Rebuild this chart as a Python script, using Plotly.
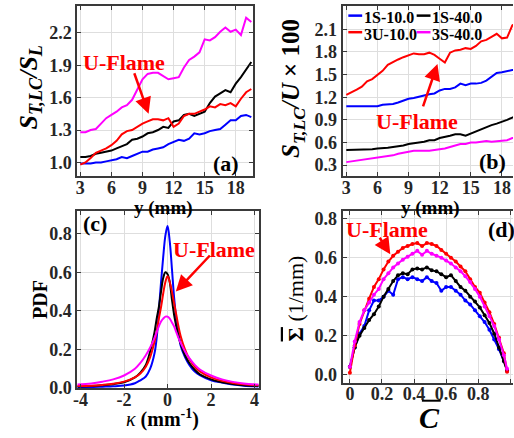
import plotly.graph_objects as go

W, H = 514, 438

# ---------------- data ----------------
y_mm = [3.0, 3.5, 4.0, 4.5, 5.0, 5.5, 6.0, 6.5, 7.0, 7.5, 8.0, 8.5, 9.0, 9.5, 10.0, 10.5, 11.0,
        11.5, 12.0, 12.5, 13.0, 13.5, 14.0, 14.5, 15.0, 15.5, 16.0, 16.5, 17.0, 17.5, 18.0, 18.5, 19.0, 19.5]

# panel (a): S_T,LC / S_L
a_blue = [0.99, 0.99, 0.99, 1.00, 1.00, 1.01, 1.02, 1.03, 1.05, 1.04, 1.06, 1.08, 1.10, 1.10, 1.12, 1.13, 1.14,
          1.17, 1.19, 1.21, 1.20, 1.22, 1.27, 1.26, 1.27, 1.29, 1.30, 1.31, 1.35, 1.39, 1.39, 1.43, 1.44, 1.42]
a_black = [1.05, 1.05, 1.06, 1.08, 1.09, 1.10, 1.11, 1.13, 1.15, 1.17, 1.21, 1.22, 1.24, 1.27, 1.28, 1.30, 1.33,
           1.32, 1.38, 1.39, 1.44, 1.45, 1.43, 1.45, 1.47, 1.55, 1.61, 1.64, 1.67, 1.65, 1.73, 1.79, 1.86, 1.93]
a_red = [0.98, 1.00, 1.04, 1.09, 1.11, 1.13, 1.16, 1.20, 1.26, 1.29, 1.30, 1.33, 1.36, 1.38, 1.40, 1.40, 1.39,
         1.41, 1.33, 1.36, 1.43, 1.45, 1.45, 1.47, 1.49, 1.52, 1.51, 1.54, 1.53, 1.55, 1.52, 1.59, 1.65, 1.68]
a_mag = [1.28, 1.28, 1.30, 1.31, 1.36, 1.41, 1.44, 1.47, 1.51, 1.53, 1.58, 1.67, 1.77, 1.82, 1.83, 1.83, 1.80,
         1.77, 1.78, 1.79, 1.88, 1.95, 1.98, 2.02, 2.14, 2.13, 2.16, 2.21, 2.25, 2.21, 2.23, 2.18, 2.34, 2.30]

# panel (b): S_T,LC / U x 100
b_blue = [1.08, 1.08, 1.08, 1.08, 1.08, 1.08, 1.08, 1.10, 1.11, 1.11, 1.13, 1.16, 1.18, 1.19, 1.21, 1.23, 1.24,
          1.25, 1.29, 1.31, 1.31, 1.33, 1.38, 1.36, 1.38, 1.38, 1.39, 1.42, 1.47, 1.52, 1.53, 1.55, 1.56, 1.56]
b_black = [0.50, 0.50, 0.50, 0.50, 0.51, 0.51, 0.52, 0.52, 0.53, 0.54, 0.55, 0.56, 0.58, 0.59, 0.60, 0.61, 0.63,
           0.63, 0.66, 0.67, 0.69, 0.71, 0.71, 0.69, 0.72, 0.75, 0.78, 0.80, 0.83, 0.85, 0.87, 0.90, 0.93, 0.95]
b_red = [1.23, 1.26, 1.30, 1.34, 1.41, 1.44, 1.50, 1.55, 1.63, 1.67, 1.70, 1.73, 1.75, 1.78, 1.77, 1.77, 1.79,
         1.76, 1.71, 1.66, 1.79, 1.82, 1.83, 1.85, 1.84, 1.88, 1.94, 1.96, 2.00, 2.04, 1.98, 1.99, 2.15, 2.20]
b_mag = [0.34, 0.35, 0.36, 0.37, 0.38, 0.39, 0.40, 0.41, 0.42, 0.43, 0.45, 0.46, 0.47, 0.49, 0.49, 0.49, 0.49,
         0.50, 0.51, 0.52, 0.54, 0.56, 0.58, 0.58, 0.60, 0.60, 0.61, 0.62, 0.61, 0.62, 0.62, 0.63, 0.66, 0.66]

# panel (c): PDF of curvature
kappa = [-4.15, -3.5, -3.0, -2.5, -2.0, -1.5, -1.25, -1.0, -0.8, -0.6, -0.5, -0.4, -0.3, -0.2, -0.1, 0.0,
         0.1, 0.2, 0.3, 0.4, 0.5, 0.6, 0.8, 1.0, 1.25, 1.5, 2.0, 2.5, 3.0, 3.5, 4.2]
c_blue = [0.004, 0.005, 0.007, 0.009, 0.013, 0.025, 0.040, 0.060, 0.10, 0.18, 0.26, 0.40, 0.55, 0.68, 0.79, 0.84,
          0.76, 0.62, 0.47, 0.36, 0.29, 0.22, 0.16, 0.12, 0.085, 0.065, 0.040, 0.028, 0.018, 0.012, 0.008]
c_black = [0.008, 0.010, 0.014, 0.020, 0.030, 0.055, 0.080, 0.12, 0.19, 0.29, 0.36, 0.42, 0.50, 0.57, 0.60, 0.59,
           0.55, 0.46, 0.38, 0.32, 0.27, 0.23, 0.17, 0.13, 0.095, 0.070, 0.045, 0.030, 0.021, 0.015, 0.011]
c_red = [0.010, 0.012, 0.016, 0.022, 0.033, 0.055, 0.075, 0.11, 0.16, 0.24, 0.29, 0.36, 0.42, 0.49, 0.55, 0.58,
         0.55, 0.50, 0.44, 0.38, 0.32, 0.27, 0.20, 0.15, 0.11, 0.085, 0.055, 0.037, 0.026, 0.019, 0.014]
c_mag = [0.018, 0.024, 0.033, 0.045, 0.065, 0.10, 0.13, 0.17, 0.21, 0.26, 0.29, 0.32, 0.345, 0.36, 0.37, 0.37,
         0.36, 0.34, 0.32, 0.29, 0.26, 0.235, 0.19, 0.155, 0.12, 0.095, 0.065, 0.045, 0.032, 0.024, 0.018]

# panel (d): surface density vs progress variable
c_bar = [0.0, 0.03, 0.06, 0.09, 0.12, 0.15, 0.18, 0.21, 0.24, 0.27, 0.30, 0.33, 0.36, 0.39, 0.42, 0.45, 0.48,
         0.51, 0.54, 0.57, 0.60, 0.63, 0.66, 0.69, 0.72, 0.75, 0.78, 0.81, 0.84, 0.87, 0.90, 0.93, 0.96, 0.98]
d_blue = [0.04, 0.14, 0.21, 0.25, 0.33, 0.38, 0.38, 0.40, 0.43, 0.41, 0.49, 0.50, 0.49, 0.50, 0.49, 0.48, 0.50,
          0.48, 0.47, 0.43, 0.45, 0.45, 0.43, 0.41, 0.38, 0.36, 0.33, 0.30, 0.27, 0.23, 0.18, 0.13, 0.07, 0.02]
d_black = [0.04, 0.14, 0.20, 0.24, 0.28, 0.31, 0.35, 0.40, 0.44, 0.48, 0.51, 0.52, 0.515, 0.54, 0.545, 0.54, 0.55,
           0.535, 0.53, 0.515, 0.50, 0.51, 0.48, 0.45, 0.43, 0.40, 0.375, 0.345, 0.305, 0.265, 0.21, 0.14, 0.07, 0.02]
d_red = [0.01, 0.15, 0.26, 0.33, 0.39, 0.45, 0.49, 0.54, 0.58, 0.61, 0.63, 0.65, 0.66, 0.67, 0.675, 0.66, 0.675,
         0.67, 0.66, 0.64, 0.62, 0.60, 0.58, 0.555, 0.53, 0.49, 0.45, 0.42, 0.37, 0.32, 0.26, 0.19, 0.11, 0.015]
d_mag = [0.04, 0.17, 0.27, 0.33, 0.37, 0.41, 0.44, 0.49, 0.52, 0.55, 0.57, 0.59, 0.605, 0.62, 0.635, 0.615, 0.635,
         0.62, 0.61, 0.60, 0.585, 0.57, 0.55, 0.53, 0.505, 0.475, 0.44, 0.40, 0.35, 0.30, 0.25, 0.18, 0.10, 0.03]

series_names = ["1S-10.0", "1S-40.0", "3U-10.0", "3S-40.0"]
series_colors = ["#0000ff", "#000000", "#ff0000", "#ff00ff"]

# ---------------- helpers ----------------
def fx(p):
    return p / W

def fy(p):
    return 1 - p / H

SERIF = "Liberation Serif"
FRAME = "#3a3a3a"
GRID = "#dedede"

def axis_style(dom, rng, tickvals, ticktext, anchor, mirror=True, standoff=0):
    return dict(domain=dom, range=rng, tickvals=tickvals, ticktext=ticktext, anchor=anchor,
                showline=True, linecolor=FRAME, linewidth=2, mirror="ticks" if mirror else False,
                ticks="inside", ticklen=4, tickwidth=1, tickcolor=FRAME,
                showgrid=True, gridcolor=GRID, gridwidth=1, zeroline=False,
                ticklabelstandoff=standoff,
                tickfont=dict(family=SERIF, size=18, color="#262626", weight="bold"))

fig = go.Figure()

groups = [
    ("x", "y", y_mm, [a_blue, a_black, a_red, a_mag], "lines", "linear"),
    ("x2", "y2", y_mm, [b_blue, b_black, b_red, b_mag], "lines", "linear"),
    ("x3", "y3", kappa, [c_blue, c_black, c_red, c_mag], "lines", "spline"),
    ("x4", "y4", c_bar, [d_blue, d_black, d_red, d_mag], "lines+markers", "linear"),
]
for xa, ya, xs, ylist, mode, shape in groups:
    for name, col, ys in zip(series_names, series_colors, ylist):
        fig.add_trace(go.Scatter(x=xs, y=ys, xaxis=xa, yaxis=ya, mode=mode, name=name,
                                 line=dict(color=col, width=2, shape=shape),
                                 marker=dict(size=4, color=col), showlegend=False))

ya_ticks = [1.0, 1.3, 1.6, 1.9, 2.2]
yb_ticks = [0.3, 0.6, 0.9, 1.2, 1.5, 1.8, 2.1]
xab_ticks = [3, 6, 9, 12, 15, 18]
xc_ticks = [-4, -2, 0, 2, 4]
ycd_ticks = [0.0, 0.2, 0.4, 0.6, 0.8]
xd_ticks = [0, 0.2, 0.4, 0.6, 0.8, 1]

top_dom = [fy(180), fy(5)]
XS = -6
fig.update_layout(
    width=W, height=H, margin=dict(l=0, r=0, t=0, b=0),
    paper_bgcolor="white", plot_bgcolor="white", showlegend=False,
    xaxis=axis_style([fx(74), fx(251)], [2.71, 19.62], xab_ticks, [str(v) for v in xab_ticks], "y", standoff=XS),
    yaxis=axis_style(top_dom, [0.87, 2.45], ya_ticks, [f"{v:.1f}" for v in ya_ticks], "x"),
    xaxis2=axis_style([fx(342), 1.0], [2.65, 19.07], xab_ticks, [str(v) for v in xab_ticks], "y2", standoff=XS),
    yaxis2=axis_style(top_dom, [0.15, 2.41], yb_ticks, [f"{v:.1f}" for v in yb_ticks], "x2", mirror=False),
    xaxis3=axis_style([fx(74), fx(257)], [-4.15, 4.18], xc_ticks, [str(v) for v in xc_ticks], "y3", standoff=XS),
    yaxis3=axis_style([fy(397), fy(215)], [0.0, 0.92], ycd_ticks, [f"{v:.1f}" for v in ycd_ticks], "x3"),
    xaxis4=axis_style([fx(342), 1.0], [-0.045, 1.017], xd_ticks, ["0", "0.2", "0.4", "0.6", "0.8", "1"], "y4", standoff=XS),
    yaxis4=axis_style([fy(391.7), fy(215)], [-0.042, 0.8415], ycd_ticks, [f"{v:.1f}" for v in ycd_ticks], "x4", mirror=False),
)

ann = []

def text(px, py, s, size=18, color="black", angle=0, xanchor="center"):
    ann.append(dict(x=fx(px), y=fy(py), xref="paper", yref="paper", text=s, showarrow=False,
                    textangle=angle, xanchor=xanchor, yanchor="middle",
                    font=dict(family=SERIF, size=size, color=color)))

def arrow(xa, ya, tail, tip):
    ann.append(dict(x=tip[0], y=tip[1], ax=tail[0], ay=tail[1], xref=xa, yref=ya, axref=xa, ayref=ya,
                    text="", showarrow=True, arrowhead=2, arrowsize=1.3, arrowwidth=2.5,
                    arrowcolor="#ff0000", standoff=0, startstandoff=0))

# axis titles
text(26, 88, "<b><i>S</i><sub><i>T,LC</i></sub><i>/S</i><sub><i>L</i></sub></b>", size=26, angle=-90)
text(292, 90, "<b><i>S</i><sub><i>T,LC</i></sub><i>/U</i> × 100</b>", size=25, angle=-90)
text(37, 306, "<b>PDF</b>", size=20, angle=-90)
text(294, 305, "<b><span style='text-decoration:overline'>Σ</span></b> (1/mm)", size=22, angle=-90)
text(161, 212, "<b>y (mm)</b>", size=19)
text(431, 212, "<b>y (mm)</b>", size=19)
text(160, 428, "<i>κ</i> <b>(mm<sup>-1</sup>)</b>", size=20)
text(430, 427, "<b><i>C</i></b>", size=30)

# panel labels
text(224, 167, "<b>(a)</b>", size=22)
text(493, 165, "<b>(b)</b>", size=22)
text(92, 228, "<b>(c)</b>", size=22)
text(502, 234, "<b>(d)</b>", size=22)

# U-Flame call-outs
text(121, 63, "<b>U-Flame</b>", size=22, color="#ff0000")
arrow("x", "y", (8.16, 1.84), (9.59, 1.45))
text(417, 124, "<b>U-Flame</b>", size=22, color="#ff0000")
arrow("x2", "y2", (10.35, 1.06), (11.79, 1.64))
text(212, 255, "<b>U-Flame</b>", size=22, color="#ff0000")
arrow("x3", "y3", (2.01, 0.695), (0.38, 0.50))
text(387, 234, "<b>U-Flame</b>", size=22, color="#ff0000")
arrow("x4", "y4", (0.18, 0.71), (0.252, 0.617))

# legend for panel (b)
shapes = [dict(type="rect", xref="paper", yref="paper", x0=fx(345), x1=fx(488), y0=fy(40), y1=fy(6),
               fillcolor="white", line=dict(width=0), layer="between"),
          # overline of the C-bar axis title
          dict(type="line", xref="paper", yref="paper", x0=fx(422), x1=fx(441), y0=fy(410), y1=fy(410),
               line=dict(color="black", width=2))]
leg_pos = [(347.7, 15), (416.7, 15), (347.7, 32), (416.7, 32)]
for (lx, ly), name, col in zip(leg_pos, series_names, series_colors):
    shapes.append(dict(type="line", xref="paper", yref="paper", x0=fx(lx), x1=fx(lx + 14), y0=fy(ly), y1=fy(ly),
                       line=dict(color=col, width=2.5)))
    text(lx + 13.5, ly + 2, f"<b>{name}</b>", size=16, xanchor="left")

fig.update_layout(annotations=ann, shapes=shapes)
fig.write_html("out.html", config={"displayModeBar": False},
               post_script="document.body.style.margin='0px';document.body.style.overflow='hidden';")
